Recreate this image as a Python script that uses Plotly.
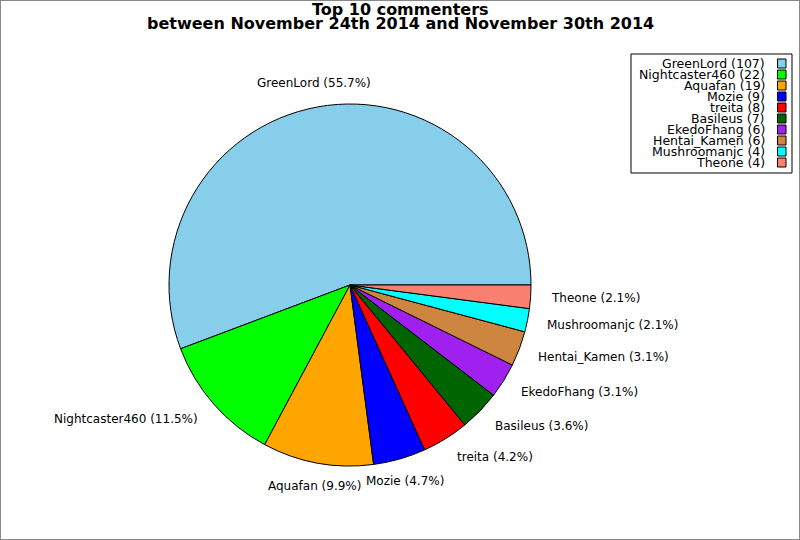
import math
import plotly.graph_objects as go

# top commenters for the week
names = ["GreenLord", "Nightcaster460", "Aquafan", "Mozie", "treita",
         "Basileus", "EkedoFhang", "Hentai_Kamen", "Mushroomanjc", "Theone"]
comments = [107, 22, 19, 9, 8, 7, 6, 6, 4, 4]
colors = ["#87CEEB", "#00FF00", "#FFA500", "#0000FF", "#FF0000",
          "#006400", "#A020F0", "#CD853F", "#00FFFF", "#FA8072"]
title_lines = ["Top 10 commenters",
               "between November 24th 2014 and November 30th 2014"]

W, H = 800, 540
cx, cy, r = 350, 285, 181  # pie centre / radius in pixels
total = sum(comments)

fig = go.Figure()
fig.add_trace(go.Pie(
    labels=names,
    values=comments,
    sort=False,
    direction="counterclockwise",
    # first slice starts at 3 o'clock and runs counterclockwise
    rotation=90 - 360 * comments[0] / total,
    marker=dict(colors=colors, line=dict(color="black", width=1)),
    textinfo="none",
    hoverinfo="label+value+percent",
    showlegend=False,
    domain=dict(x=[(cx - r) / W, (cx + r) / W],
                y=[1 - (cy + r) / H, 1 - (cy - r) / H]),
))

annotations = []
start = 0.0
for name, val in zip(names, comments):
    frac = val / total
    mid = 2 * math.pi * (start + frac / 2)
    start += frac
    c, s = math.cos(mid), math.sin(mid)
    px = cx + 1.1 * r * c
    py = cy - 1.1 * r * s
    if abs(c) < 0.4:
        xa = "center"
        if s > 0:
            ya = "bottom"
            py += 3
        else:
            ya = "top"
            py -= 4
    else:
        xa = "left" if c > 0 else "right"
        ya = "middle"
        py += 4 * abs(s)
    annotations.append(dict(
        x=px / W, y=1 - py / H, xref="paper", yref="paper",
        text=f"{name} ({frac * 100:.1f}%)", showarrow=False,
        xanchor=xa, yanchor=ya, font=dict(size=12, color="black"),
    ))

# title, two tight lines
for i, line in enumerate(title_lines):
    annotations.append(dict(
        x=0.5, y=1 - (10 + 14 * i) / H, xref="paper", yref="paper",
        text=f"<b>{line}</b>", showarrow=False, xanchor="center", yanchor="middle",
        font=dict(size=16, color="black"),
    ))

# legend box: text right aligned, colour patch on the right
shapes = [dict(type="rect", xref="paper", yref="paper", x0=0, x1=1, y0=0, y1=1,
               line=dict(color="#888888", width=2)),
          dict(type="rect", xref="paper", yref="paper",
               x0=631 / W, x1=792 / W, y0=1 - 173 / H, y1=1 - 54 / H,
               line=dict(color="black", width=1), fillcolor="white")]
for i, (name, val, col) in enumerate(zip(names, comments, colors)):
    yc = 63.5 + i * 11
    annotations.append(dict(
        x=767 / W, y=1 - yc / H, xref="paper", yref="paper",
        text=f"{name} ({val})", showarrow=False, xanchor="right", yanchor="middle",
        font=dict(size=12.5, color="black"),
    ))
    shapes.append(dict(type="rect", xref="paper", yref="paper",
                       x0=777.5 / W, x1=786 / W, y0=1 - (yc + 4.5) / H, y1=1 - (yc - 4.5) / H,
                       line=dict(color="black", width=1), fillcolor=col))

fig.update_layout(
    width=W, height=H,
    margin=dict(l=0, r=0, t=0, b=0),
    paper_bgcolor="white",
    font=dict(family="DejaVu Sans", color="black"),
    annotations=annotations,
    shapes=shapes,
)

fig.write_html("out.html", config={"displayModeBar": False},
               post_script="document.body.style.margin='0px';")
